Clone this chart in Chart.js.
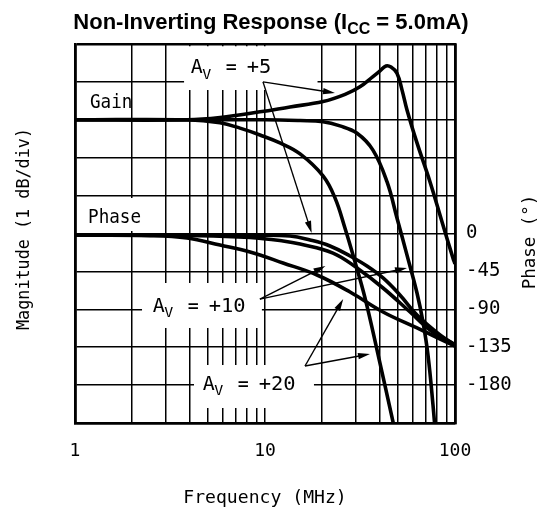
<!DOCTYPE html>
<html><head><meta charset="utf-8">
<script src="https://cdn.jsdelivr.net/npm/chart.js@4.4.1/dist/chart.umd.min.js"></script>
<style>html,body{margin:0;padding:0;background:#fff}#wrap{width:537px;height:515px;position:relative}</style>
</head><body><div id="wrap"><canvas id="c"></canvas></div>
<script>
// ---- axis ticks ----
const freqTicks = [1,2,3,4,5,6,7,8,9,10,20,30,40,50,60,70,80,90,100];
const freqLabelValues = [1,10,100];
const phaseLabelValues = [0,-45,-90,-135,-180];

// ---- gain curves (frequency MHz, magnitude dB; 1 dB/div) ----
const gain5F  = [1,3.886,5.8,9.41,13.54,20.2,26.4,31.6,37,40.3,43.35,46.05,49.5,52.6,55.9,63.1,73.9,85.4,97.6,100];
const gain5   = [0,0,0.06,0.21,0.34,0.48,0.67,0.87,1.14,1.29,1.42,1.39,1.23,0.79,0.26,-0.61,-1.64,-2.69,-3.65,-3.8];
const gain10F = [1,10,15.3,20.2,24.8,30.4,37,43.9,49.5,55.9,63.1,67.86,72.1,76.6,79.4];
const gain10  = [0,0,-0.02,-0.05,-0.16,-0.35,-0.8,-1.64,-2.59,-3.57,-4.57,-5.34,-6.21,-7.53,-8.45];
const gain20F = [1,3.886,5.8,7.385,9.41,11.98,15.3,20.2,23.35,26.37,29.77,33.6,38.86,47.18,49.5];
const gain20  = [0,0,-0.08,-0.22,-0.4,-0.61,-0.9,-1.48,-2.06,-2.86,-3.75,-4.7,-6.07,-7.97,-8.45];

// ---- phase curves (frequency MHz, degrees) ----
const phase5F  = [1,5,8.3,13.54,17.26,21.98,28.02,34.42,41.8,51.3,63.1,83.4,100];
const phase5   = [-2,-2,-2.2,-3,-7.7,-14.8,-26.7,-38.6,-52.8,-73,-96.8,-120.5,-132.3];
const phase10F = [1,4.55,8.34,12.44,15.3,22.8,30.5,41.8,58,73.9,100];
const phase10  = [-2,-2.5,-4.7,-8.9,-12.5,-23.2,-41,-64.7,-93.2,-114.5,-132.3];
const phase20F = [1,2.48,3.886,5.8,8.34,12.44,18.78,28.02,41.8,63.1,100];
const phase20  = [-2,-2.5,-5.3,-13.7,-22,-35,-49.3,-69.5,-93.2,-112.2,-133.6];

// ---- annotations (placed in data units: MHz, dB) ----
const plainLabels = [{text:'Gain', f:1.199, v:0.311},{text:'Phase', f:1.171, v:-2.723}];
const gainLabels = [{gain:'+5', f:4.064, v:1.222},{gain:'+10', f:2.565, v:-5.071},{gain:'+20', f:4.70, v:-7.129}];
const labelBoxes = [
  {f0:3.75, f1:18.9, v0:1.94, v1:0.786},
  {f0:1.088, f1:2.42, v0:-2.063, v1:-2.934},
  {f0:2.253, f1:9.63, v0:-4.306, v1:-5.493},
  {f0:4.23, f1:18.1, v0:-6.47, v1:-7.604}
];
const arrows = [
  [[9.76,1.0],[23.35,0.707]], [[9.76,1.0],[17.6,-2.987]],
  [[9.40,-4.73],[20.8,-3.857]], [[9.40,-4.73],[55.9,-3.91]],
  [[16.24,-6.496],[25.8,-4.73]], [[16.24,-6.496],[35.7,-6.18]]
];

const zip = (F,V) => F.map((f,i)=>({x:f,y:V[i]}));
const MONO = '"DejaVu Sans Mono", monospace';

function txt(ctx, s, x, y, size, pitch, align) {
  ctx.save();
  ctx.font = size + 'px ' + MONO;
  const w = ctx.measureText(s).width;
  const sx = pitch * s.length / w;
  const tw = w * sx;
  const x0 = align === 'center' ? x - tw/2 : (align === 'right' ? x - tw : x);
  ctx.translate(x0, y); ctx.scale(sx, 1);
  ctx.textAlign = 'left'; ctx.textBaseline = 'alphabetic'; ctx.fillStyle = '#000';
  ctx.fillText(s, 0, 0);
  ctx.restore();
}

function arrow(ctx, x1, y1, x2, y2) {
  const a = Math.atan2(y2-y1, x2-x1), L = 12, W = 3.2;
  ctx.save();
  ctx.strokeStyle = '#000'; ctx.fillStyle = '#000'; ctx.lineWidth = 1.4;
  ctx.beginPath(); ctx.moveTo(x1,y1); ctx.lineTo(x2 - Math.cos(a)*L*0.8, y2 - Math.sin(a)*L*0.8); ctx.stroke();
  ctx.translate(x2,y2); ctx.rotate(a);
  ctx.beginPath(); ctx.moveTo(0,0); ctx.lineTo(-L,-W); ctx.lineTo(-L,W); ctx.closePath(); ctx.fill();
  ctx.restore();
}

const annot = {
  id:'annot',
  beforeDatasetsDraw(chart){
    const {ctx, scales:{x,y}} = chart;
    ctx.save(); ctx.fillStyle = '#fff';
    for (const b of labelBoxes) {
      const x1=x.getPixelForValue(b.f0), x2=x.getPixelForValue(b.f1);
      const y1=y.getPixelForValue(b.v0), y2=y.getPixelForValue(b.v1);
      ctx.fillRect(x1,y1,x2-x1,y2-y1);
    }
    ctx.restore();
  },
  afterDatasetsDraw(chart){
    const {ctx, scales:{x,y}} = chart;
    for (const l of plainLabels) txt(ctx, l.text, x.getPixelForValue(l.f), y.getPixelForValue(l.v), 19.5, 10.6, 'left');
    for (const g of gainLabels) {
      const px = x.getPixelForValue(g.f), py = y.getPixelForValue(g.v);
      txt(ctx, 'A', px, py, 19.5, 12, 'left');
      txt(ctx, 'V', px+11.5, py+5.5, 14.5, 9, 'left');
      txt(ctx, '=', px+35, py, 19.5, 11, 'left');
      txt(ctx, g.gain, px+56, py, 19.5, 12.3, 'left');
    }
    for (const a of arrows) arrow(ctx, x.getPixelForValue(a[0][0]), y.getPixelForValue(a[0][1]), x.getPixelForValue(a[1][0]), y.getPixelForValue(a[1][1]));
  },
  afterDraw(chart){
    const ctx = chart.ctx, area = chart.chartArea;
    ctx.save();
    ctx.fillStyle = '#000'; ctx.textBaseline = 'alphabetic'; ctx.textAlign = 'left';
    const p1 = 'Non-Inverting Response (I', sub = 'CC', p2 = ' = 5.0mA)';
    const F1 = 'bold 22px "Liberation Sans", Arial, sans-serif', F2 = 'bold 16px "Liberation Sans", Arial, sans-serif';
    ctx.font = F1; const w1 = ctx.measureText(p1).width, w3 = ctx.measureText(p2).width;
    ctx.font = F2; const w2 = ctx.measureText(sub).width;
    let tx = 271 - (w1+w2+w3)/2;
    ctx.font = F1; ctx.fillText(p1, tx, 29); tx += w1;
    ctx.font = F2; ctx.fillText(sub, tx, 34); tx += w2;
    ctx.font = F1; ctx.fillText(p2, tx, 29);
    ctx.restore();
    txt(ctx, 'Frequency (MHz)', (area.left+area.right)/2, 503, 18.5, 10.9, 'center');
    ctx.save(); ctx.translate(29, 229); ctx.rotate(-Math.PI/2);
    txt(ctx, 'Magnitude (1 dB/div)', 0, 0, 18.5, 10.1, 'center'); ctx.restore();
    ctx.save(); ctx.translate(535, 242); ctx.rotate(-Math.PI/2);
    txt(ctx, 'Phase (\u00B0)', 0, 0, 18.5, 10.5, 'center'); ctx.restore();
  }
};

const lineStyle = {borderColor:'#000', borderWidth:3.6, pointRadius:0, fill:false, tension:0.4, clip:0};
const edgeW = (v, a, b) => (v === a || v === b) ? 2.6 : 1.5;

new Chart(document.getElementById('c'), {
  type:'line',
  data:{datasets:[
    {label:'Gain Av=+5', data:zip(gain5F,gain5), yAxisID:'y', ...lineStyle},
    {label:'Gain Av=+10', data:zip(gain10F,gain10), yAxisID:'y', ...lineStyle},
    {label:'Gain Av=+20', data:zip(gain20F,gain20), yAxisID:'y', ...lineStyle},
    {label:'Phase Av=+5', data:zip(phase5F,phase5), yAxisID:'y2', ...lineStyle},
    {label:'Phase Av=+10', data:zip(phase10F,phase10), yAxisID:'y2', ...lineStyle},
    {label:'Phase Av=+20', data:zip(phase20F,phase20), yAxisID:'y2', ...lineStyle}
  ]},
  options:{
    responsive:true, maintainAspectRatio:false, animation:false,
    layout:{padding:{top:44,left:0,right:0,bottom:0}},
    plugins:{legend:{display:false}, tooltip:{enabled:false}},
    scales:{
      x:{type:'logarithmic', min:1, max:100,
        afterBuildTicks:s=>{ s.ticks = freqTicks.map(v=>({value:v})); },
        afterFit:s=>{ s.height = 92; },
        grid:{color:'#000', lineWidth:c=>edgeW(c.tick && c.tick.value,1,100), drawTicks:false},
        border:{display:true, color:'#000', width:2.6},
        ticks:{autoSkip:false, maxRotation:0, padding:18, color:'#000', font:{family:MONO, size:18},
          callback:v=> freqLabelValues.includes(v) ? String(v) : ''}
      },
      y:{type:'linear', position:'left', min:-8, max:2,
        afterFit:s=>{ s.width = 75; },
        grid:{color:'#000', lineWidth:c=>edgeW(c.tick && c.tick.value,2,-8), drawTicks:false},
        border:{display:true, color:'#000', width:2.6},
        ticks:{display:false, stepSize:1}
      },
      y2:{type:'linear', position:'right', min:-225, max:225,
        afterFit:s=>{ s.width = 82; },
        grid:{display:false, drawTicks:false},
        border:{display:true, color:'#000', width:2.6},
        ticks:{stepSize:45, padding:11, color:'#000', font:{family:MONO, size:19},
          callback:v=> phaseLabelValues.includes(v) ? String(v) : ''}
      }
    }
  },
  plugins:[annot]
});
</script></body></html>
